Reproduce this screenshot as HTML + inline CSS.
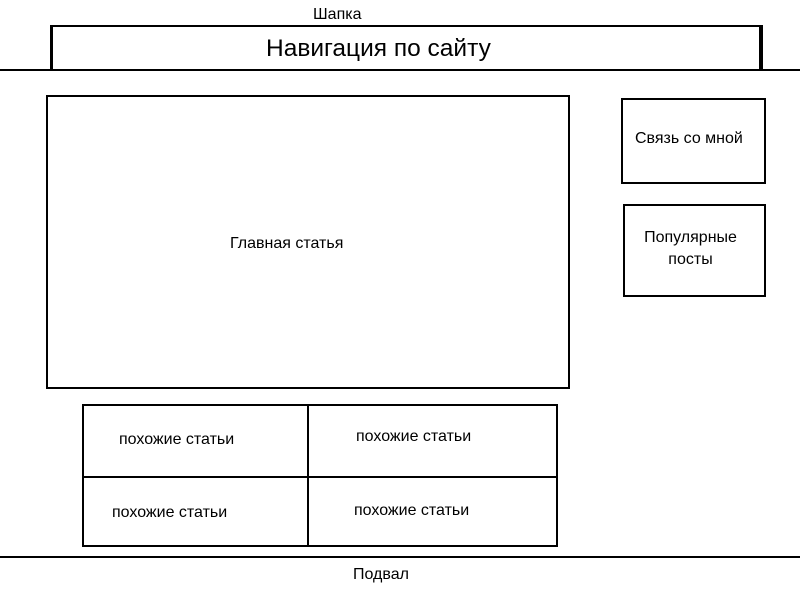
<!DOCTYPE html>
<html><head><meta charset="utf-8"><style>
body{margin:0;width:800px;height:600px;background:#fff;position:relative;overflow:hidden;font-family:"Liberation Sans","DejaVu Sans",sans-serif;color:#000}
.b{position:absolute;border:2px solid #000;box-sizing:border-box}
.t{position:absolute;font-size:16px;white-space:nowrap}
.l{position:absolute;background:#000}
</style></head><body>
<div class="t" style="left:313px;top:6px;font-size:16px">Шапка</div>
<div class="b" style="left:50px;top:25px;width:713px;height:46px;border-width:2px 4px 2px 3px"></div>
<div class="t" style="left:266px;top:35px;font-size:24.5px">Навигация по сайту</div>
<div class="l" style="left:0;top:69px;width:800px;height:2px"></div>
<div class="b" style="left:46px;top:95px;width:524px;height:294px"></div>
<div class="t" style="left:230px;top:235px">Главная статья</div>
<div class="b" style="left:621px;top:98px;width:145px;height:86px"></div>
<div class="t" style="left:635px;top:130px">Связь со мной</div>
<div class="b" style="left:623px;top:204px;width:143px;height:93px"></div>
<div class="t" style="left:619px;top:227px;width:143px;text-align:center;white-space:normal;line-height:22px">Популярные<br>посты</div>
<div class="b" style="left:82px;top:404px;width:476px;height:143px"></div>
<div class="l" style="left:307px;top:404px;width:2px;height:143px"></div>
<div class="l" style="left:82px;top:476px;width:476px;height:2px"></div>
<div class="t" style="left:119px;top:431px">похожие статьи</div>
<div class="t" style="left:356px;top:428px">похожие статьи</div>
<div class="t" style="left:112px;top:504px">похожие статьи</div>
<div class="t" style="left:354px;top:502px">похожие статьи</div>
<div class="l" style="left:0;top:556px;width:800px;height:2px"></div>
<div class="t" style="left:353px;top:566px">Подвал</div>
</body></html>
